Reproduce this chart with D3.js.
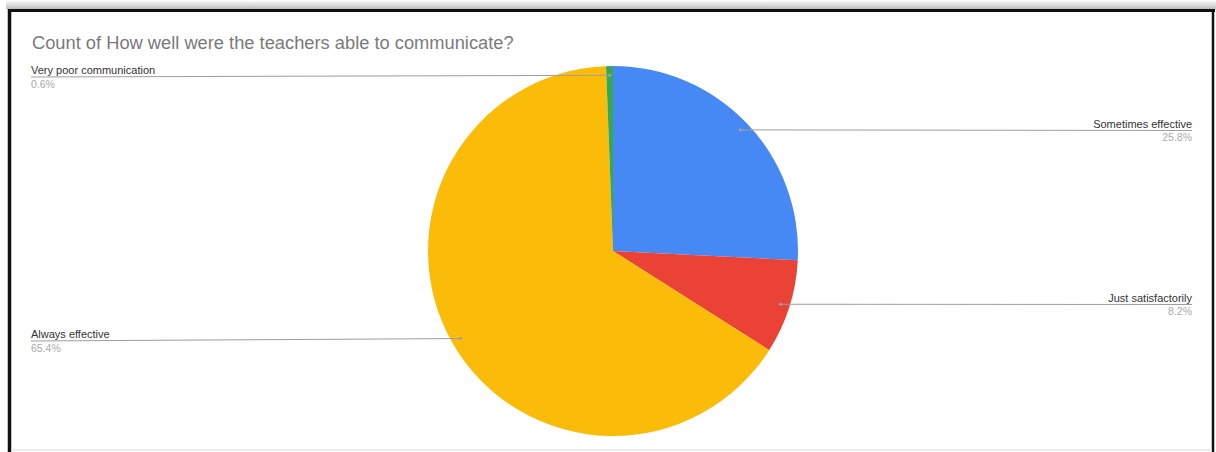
<!DOCTYPE html>
<html>
<head>
<meta charset="utf-8">
<script src="https://cdn.jsdelivr.net/npm/d3@7"></script>
<style>
html,body{margin:0;padding:0;background:#fff;}
svg{display:block;}
</style>
</head>
<body>
<svg id="chart" width="1216" height="452"></svg>
<script>
const title = "Count of How well were the teachers able to communicate?";
const categories = ["Sometimes effective", "Just satisfactorily", "Always effective", "Very poor communication"];
const values = [25.8, 8.2, 65.4, 0.6];
const colors = ["#4689f5", "#ea4335", "#fbbc09", "#34a853"];

const W = 1216, H = 452;
const svg = d3.select("#chart");

// frame / shadow
const defs = svg.append("defs");
const g1 = defs.append("linearGradient").attr("id","shTop").attr("x1",0).attr("y1",0).attr("x2",0).attr("y2",1);
g1.append("stop").attr("offset","0%").attr("stop-color","#ffffff");
g1.append("stop").attr("offset","100%").attr("stop-color","#bdbdbd");
svg.append("rect").attr("x",6).attr("y",0).attr("width",1210).attr("height",9).attr("fill","url(#shTop)");
svg.append("line").attr("x1",8).attr("x2",1215).attr("y1",10.5).attr("y2",10.5).attr("stroke","#111").attr("stroke-width",3);
svg.append("line").attr("x1",9.5).attr("x2",9.5).attr("y1",9).attr("y2",H).attr("stroke","#111").attr("stroke-width",3.5);
svg.append("line").attr("x1",1213).attr("x2",1213).attr("y1",9).attr("y2",H).attr("stroke","#111").attr("stroke-width",2.5);
svg.append("line").attr("x1",11).attr("x2",1212).attr("y1",450).attr("y2",450).attr("stroke","#e6e6e6").attr("stroke-width",1.5);

svg.append("text").attr("x",32).attr("y",49)
  .attr("font-family","Liberation Sans, Arial, sans-serif").attr("font-size",18.3)
  .attr("fill","#7a7a7a").text(title);

const cx = 613, cy = 251, r = 185;
const data = categories.map((c,i)=>({name:c, value:values[i], color:colors[i]}));
const pie = d3.pie().sort(null).value(d=>d.value).startAngle(0).endAngle(2*Math.PI);
const arcs = pie(data);
const arc = d3.arc().innerRadius(0).outerRadius(r);
const gp = svg.append("g").attr("transform",`translate(${cx},${cy})`);
gp.selectAll("path").data(arcs).join("path")
  .attr("d",arc).attr("fill",d=>d.data.color).attr("stroke","none");

const total = d3.sum(values);
const lab = svg.append("g").attr("font-family","Liberation Sans, Arial, sans-serif");
arcs.forEach(a=>{
  const mid = (a.startAngle+a.endAngle)/2;
  const ax = cx + 0.95*r*Math.sin(mid);
  const ay = cy - 0.95*r*Math.cos(mid);
  const right = Math.sin(mid) > 0;
  const ly = Math.round(ay) + 0.5 + (right ? 0 : 1.5);
  const lx = right ? 1192 : 31;
  lab.append("path")
    .attr("d",`M${ax},${ay}L${lx},${ly}`)
    .attr("stroke","#9e9e9e").attr("stroke-width",1).attr("fill","none");
  lab.append("circle").attr("cx",ax).attr("cy",ay).attr("r",1.6).attr("fill","#9e9e9e");
  lab.append("text").attr("x",lx).attr("y",ly-3)
    .attr("text-anchor",right?"end":"start").attr("font-size",11).attr("fill","#333")
    .text(a.data.name);
  lab.append("text").attr("x",lx).attr("y",ly+10.5)
    .attr("text-anchor",right?"end":"start").attr("font-size",10.5).attr("fill","#aaaaaa")
    .text((a.data.value/total*100).toFixed(1)+"%");
});
</script>
</body>
</html>
